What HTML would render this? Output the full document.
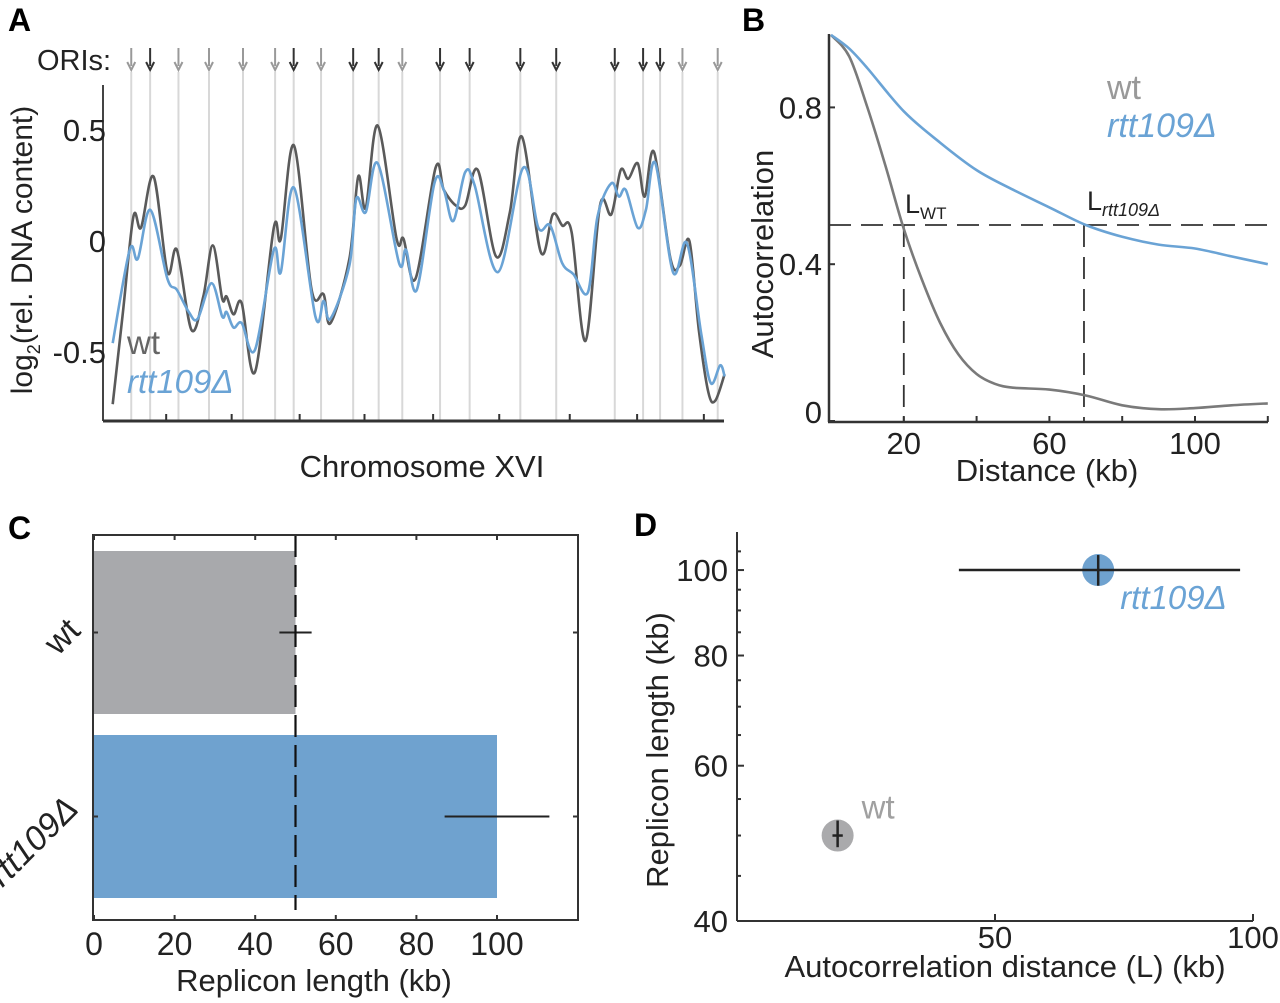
<!DOCTYPE html>
<html><head><meta charset="utf-8">
<style>
html,body{margin:0;padding:0;background:#fff;}
svg{display:block;font-family:"Liberation Sans",sans-serif;}
</style></head>
<body>
<svg id="fig" width="1280" height="1003" viewBox="0 0 1280 1003" xmlns="http://www.w3.org/2000/svg"></svg>
<script>
// ---- Panel A data ----
const oriPos = [38.5,68.5,113.5,162,216,267,296.5,340,391,431.5,469,529,576,656.5,713.5,806.5,851.5,878.5,914,970];
const oriConfirmed = [0,1,0,0,0,0,1,0,1,1,0,1,1,1,1,1,1,1,0,0];
const wtPos = [9,25,42,54,74,96,111,134,153,168,183,190,201,214,235,265,276,297,325,344,355,385,399,411,430,460,471,490,522,535,554,569,589,618,640,659,689,708,723,738,760,783,801,816,828,843,854,869,895,910,925,940,955,966,981];
const wtVal = [-0.735,-0.33,0.11,0.06,0.29,-0.14,-0.04,-0.40,-0.25,-0.02,-0.26,-0.25,-0.33,-0.28,-0.59,0.06,0.01,0.43,-0.22,-0.24,-0.37,-0.08,0.29,0.15,0.52,0.01,0.01,-0.17,0.33,0.23,0.16,0.16,0.32,-0.07,0.13,0.47,-0.05,0.12,0.07,0.04,-0.45,0.16,0.12,0.32,0.28,0.35,0.20,0.40,-0.08,-0.11,0.00,-0.40,-0.68,-0.72,-0.60];
const rttPos = [9,36,49,69,96,111,130,144,166,183,190,201,214,235,265,276,297,331,344,355,385,396,411,430,464,475,492,520,535,550,569,584,621,661,685,704,723,741,764,779,801,813,824,843,856,871,899,921,944,959,974,981];
const rttVal = [-0.46,-0.04,-0.08,0.14,-0.17,-0.22,-0.32,-0.35,-0.19,-0.34,-0.32,-0.39,-0.37,-0.49,-0.04,-0.14,0.24,-0.34,-0.27,-0.35,-0.11,0.19,0.13,0.35,-0.10,-0.04,-0.22,0.26,0.23,0.09,0.31,0.25,-0.14,0.33,0.06,0.07,-0.10,-0.15,-0.23,0.11,0.26,0.20,0.23,0.06,0.14,0.35,-0.14,-0.01,-0.42,-0.64,-0.56,-0.61];
const aYTicks = [0.5,0,-0.5];
const aYLabels = ["0.5","0","-0.5"];
const aXTicks = [94,198,306,409,518,623,735,842,948];
// ---- Panel B data ----
const bDist = [0,5,10,15,20,25,30,35,40,45,50,60,70,80,90,100,110,120];
const bWt = [0.985,0.93,0.80,0.65,0.49,0.36,0.25,0.17,0.12,0.095,0.085,0.08,0.065,0.04,0.03,0.033,0.04,0.045];
const bDist2 = [0,5,10,20,30,40,50,60,70,80,90,100,110,120];
const bRtt = [0.985,0.95,0.90,0.79,0.71,0.64,0.59,0.545,0.50,0.47,0.45,0.44,0.42,0.40];
const bThreshold = 0.5;
const bLwt = 20, bLrtt = 69.5;
const bXTicks = [20,40,60,80,100,120];
const bXLabels = {20:"20",60:"60",100:"100"};
const bYTicks = [0,0.4,0.8];
const bYLabels = ["0","0.4","0.8"];
// ---- Panel C data ----
const cCats = ["wt","rtt109Δ"];
const cVals = [50,100];
const cErrLo = [46,87];
const cErrHi = [54,113];
const cXTicks = [0,20,40,60,80,100];
const cRef = 50;
// ---- Panel D data ----
const dNames = ["wt","rtt109Δ"];
const dL = [19.5,70];
const dLen = [50,100];
const dLlo = [18.5,43];
const dLhi = [20.5,97.5];
const dYlo = [48.5,96];
const dYhi = [52,104];
const dXTicks = [50,100];
const dYTicks = [40,60,80,100];

const NS="http://www.w3.org/2000/svg";
const svg=document.getElementById('fig');
function mk(tag,attrs,parent,txt){const e=document.createElementNS(NS,tag);for(const k in attrs)e.setAttribute(k,attrs[k]);if(txt!==undefined)e.textContent=txt;(parent||svg).appendChild(e);return e;}
function smooth(pts){let d="M"+pts[0][0].toFixed(1)+","+pts[0][1].toFixed(1);for(let i=0;i<pts.length-1;i++){const p0=pts[i-1]||pts[i],p1=pts[i],p2=pts[i+1],p3=pts[i+2]||p2;const c1=[p1[0]+(p2[0]-p0[0])/6,p1[1]+(p2[1]-p0[1])/6],c2=[p2[0]-(p3[0]-p1[0])/6,p2[1]-(p3[1]-p1[1])/6];d+="C"+c1[0].toFixed(1)+","+c1[1].toFixed(1)+" "+c2[0].toFixed(1)+","+c2[1].toFixed(1)+" "+p2[0].toFixed(1)+","+p2[1].toFixed(1);}return d;}
const GREY="#5a5a5a", BLUE="#6aa3d5", TXT="#222";
const TICKF=31, TITLEF=31;

// ===== Panel A =====
const gA=mk('g',{});


const ax=v=>107+v*(724-107)/980;
const ay=v=>241-v*222;
let t=mk('text',{x:8,y:31,'font-size':32,'font-weight':'bold',fill:'#000'},gA,'A');

t=mk('text',{x:37,y:70,'font-size':29,fill:TXT},gA,'ORIs:');

oriPos.forEach((p,i)=>{const x=ax(p);const c=oriConfirmed[i]?'#333':'#999';
 const l=mk('line',{x1:x,y1:72,x2:x,y2:421,stroke:'#d8d8d8','stroke-width':2},gA);
 
 const a=mk('g',{},gA);
 
 mk('line',{x1:x,y1:48,x2:x,y2:66,stroke:c,'stroke-width':2},a);
 mk('path',{d:`M${x-4},${62} L${x},${70} L${x+4},${62}`,fill:'none',stroke:c,'stroke-width':2},a);
});
let ln=mk('line',{x1:103,y1:85,x2:103,y2:421,stroke:'#444','stroke-width':2},gA);

ln=mk('line',{x1:103,y1:421,x2:724,y2:421,stroke:'#333','stroke-width':3},gA);

aXTicks.forEach(v=>{const e=mk('line',{x1:ax(v),y1:421,x2:ax(v),y2:414,stroke:'#333','stroke-width':2},gA);
 });
aYTicks.forEach((v,i)=>{const e=mk('text',{x:106,y:ay(v)+11,'font-size':TICKF,'text-anchor':'end',fill:TXT},gA,aYLabels[i]);
 });
t=mk('text',{x:0,y:0,'font-size':30,fill:TXT,'text-anchor':'middle',transform:'translate(32,250) rotate(-90)'},gA);

t.innerHTML='log<tspan font-size="18" dy="8">2</tspan><tspan dy="-8">(rel. DNA content)</tspan>';
t=mk('text',{x:422,y:477,'font-size':TITLEF,'text-anchor':'middle',fill:TXT},gA,'Chromosome XVI');

let p=mk('path',{d:smooth(wtPos.map((v,i)=>[ax(v),ay(wtVal[i])])),fill:'none',stroke:GREY,'stroke-width':2.6},gA);

p=mk('path',{d:smooth(rttPos.map((v,i)=>[ax(v),ay(rttVal[i])])),fill:'none',stroke:BLUE,'stroke-width':2.6},gA);

t=mk('text',{x:127,y:354,'font-size':33,fill:'#666'},gA,'wt');

t=mk('text',{x:127,y:393,'font-size':33,'font-style':'italic',fill:BLUE},gA,'rtt109Δ');


// ===== Panel B =====
const gB=mk('g',{});

const bx=v=>831+v*3.64;
const by=v=>421-v*392;
t=mk('text',{x:742,y:31,'font-size':32,'font-weight':'bold',fill:'#000'},gB,'B');

ln=mk('line',{x1:829,y1:34,x2:829,y2:422,stroke:'#333','stroke-width':2.5},gB);

ln=mk('line',{x1:828,y1:422,x2:1268,y2:422,stroke:'#333','stroke-width':2.5},gB);

bXTicks.forEach(v=>{const e=mk('line',{x1:bx(v),y1:422,x2:bx(v),y2:416,stroke:'#333','stroke-width':2},gB);
 
 if(bXLabels[v]){const l=mk('text',{x:bx(v),y:454,'font-size':TICKF,'text-anchor':'middle',fill:TXT},gB,bXLabels[v]);
 }});
bYTicks.forEach((v,i)=>{const e=mk('line',{x1:829,y1:by(v),x2:835,y2:by(v),stroke:'#333','stroke-width':2},gB);
 
 const l=mk('text',{x:822,y:by(v)+(v===0?2:11),'font-size':TICKF,'text-anchor':'end',fill:TXT},gB,bYLabels[i]);
 });
t=mk('text',{x:0,y:0,'font-size':TITLEF,'text-anchor':'middle',fill:TXT,transform:'translate(773,254) rotate(-90)'},gB,'Autocorrelation');

t=mk('text',{x:1047,y:481,'font-size':TITLEF,'text-anchor':'middle',fill:TXT},gB,'Distance (kb)');

ln=mk('line',{x1:829,y1:by(bThreshold),x2:1268,y2:by(bThreshold),stroke:'#333','stroke-width':1.8,'stroke-dasharray':'22,10'},gB);

ln=mk('line',{x1:bx(bLwt),y1:by(bThreshold),x2:bx(bLwt),y2:422,stroke:'#333','stroke-width':1.8,'stroke-dasharray':'22,10'},gB);

ln=mk('line',{x1:bx(bLrtt),y1:by(bThreshold),x2:bx(bLrtt),y2:422,stroke:'#333','stroke-width':1.8,'stroke-dasharray':'22,10'},gB);

p=mk('path',{d:smooth(bDist.map((v,i)=>[bx(v),by(bWt[i])])),fill:'none',stroke:'#7a7a7a','stroke-width':2.6},gB);

p=mk('path',{d:smooth(bDist2.map((v,i)=>[bx(v),by(bRtt[i])])),fill:'none',stroke:BLUE,'stroke-width':2.6},gB);

t=mk('text',{x:905,y:213,'font-size':27,fill:TXT},gB);

t.innerHTML='L<tspan font-size="17" dy="6">WT</tspan>';
t=mk('text',{x:1087,y:210,'font-size':27,fill:TXT},gB);

t.innerHTML='L<tspan font-size="18" dy="6" font-style="italic">rtt109Δ</tspan>';
t=mk('text',{x:1107,y:99,'font-size':34,fill:'#999'},gB,'wt');

t=mk('text',{x:1107,y:137,'font-size':34,'font-style':'italic',fill:BLUE},gB,'rtt109Δ');


// ===== Panel C =====
const gC=mk('g',{});

const cx=v=>94+v*4.03;
const cBandTop=[551,735], cBandH=163;
t=mk('text',{x:8,y:539,'font-size':32,'font-weight':'bold',fill:'#000'},gC,'C');

cVals.forEach((v,i)=>{const r=mk('rect',{x:cx(0),y:cBandTop[i],width:cx(v)-cx(0),height:cBandH,fill:i?'#6fa2cf':'#a8a9ac'},gC);
 
 const yc=cBandTop[i]+cBandH/2;
 const e=mk('line',{x1:cx(cErrLo[i]),y1:yc,x2:cx(cErrHi[i]),y2:yc,stroke:'#222','stroke-width':2},gC);
 
 if(i===0){const v2=mk('line',{x1:cx(v),y1:yc-6,x2:cx(v),y2:yc+6,stroke:'#222','stroke-width':2},gC);
 }
 [93,578].forEach((xx,j)=>{const tk=mk('line',{x1:xx,y1:yc,x2:xx+(j?-5:5),y2:yc,stroke:'#333','stroke-width':2},gC);
 });
 const lab=mk('text',{x:0,y:0,'font-size':34,'text-anchor':'end','font-style':i?'italic':'normal',fill:TXT,transform:`translate(${i?80:82},${yc+(i?-6:0)}) rotate(-45)`},gC,cCats[i]);
 
});
ln=mk('line',{x1:cx(cRef),y1:535,x2:cx(cRef),y2:910,stroke:'#111','stroke-width':2.2,'stroke-dasharray':'22,8'},gC);

let box=mk('rect',{x:93,y:535,width:485,height:385,fill:'none',stroke:'#333','stroke-width':2},gC);

cXTicks.forEach(v=>{[535,920].forEach((yy,j)=>{const tk=mk('line',{x1:cx(v),y1:yy,x2:cx(v),y2:yy+(j?-5:5),stroke:'#333','stroke-width':2},gC);
 });
 const l=mk('text',{x:cx(v),y:955,'font-size':32,'text-anchor':'middle',fill:TXT},gC,String(v));
 });
t=mk('text',{x:314,y:991,'font-size':TITLEF,'text-anchor':'middle',fill:TXT},gC,'Replicon length (kb)');


// ===== Panel D =====
const gD=mk('g',{});

const dx=v=>737+v*5.16;
const dy=v=>921-Math.log(v/40)*383;
t=mk('text',{x:634,y:536,'font-size':32,'font-weight':'bold',fill:'#000'},gD,'D');

ln=mk('line',{x1:737,y1:532,x2:737,y2:921,stroke:'#333','stroke-width':2},gD);

ln=mk('line',{x1:737,y1:921,x2:1253,y2:921,stroke:'#333','stroke-width':2},gD);

for(let v=40;v<=105;v+=5){const big=dYTicks.indexOf(v)>=0;const tk=mk('line',{x1:737,y1:dy(v),x2:737+(big?7:4),y2:dy(v),stroke:'#333','stroke-width':2},gD);
 }
dYTicks.forEach(v=>{const l=mk('text',{x:728,y:dy(v)+11,'font-size':TICKF,'text-anchor':'end',fill:TXT},gD,String(v));
 });
dXTicks.forEach(v=>{const tk=mk('line',{x1:dx(v),y1:921,x2:dx(v),y2:914,stroke:'#333','stroke-width':2},gD);
 
 const l=mk('text',{x:dx(v),y:948,'font-size':TICKF,'text-anchor':'middle',fill:TXT},gD,String(v));
 });
t=mk('text',{x:0,y:0,'font-size':TITLEF,'text-anchor':'middle',fill:TXT,transform:'translate(668,750) rotate(-90)'},gD,'Replicon length (kb)');

t=mk('text',{x:1005,y:977,'font-size':TITLEF,'text-anchor':'middle',fill:TXT},gD,'Autocorrelation distance (L) (kb)');

dL.forEach((v,i)=>{const c=mk('ellipse',{cx:dx(v),cy:dy(dLen[i]),rx:16,ry:16,fill:i?'#6fa2cf':'#aaaaac'},gD);
 
 const h=mk('line',{x1:dx(dLlo[i]),y1:dy(dLen[i]),x2:dx(dLhi[i]),y2:dy(dLen[i]),stroke:'#222','stroke-width':2.5},gD);
 
 const vv=mk('line',{x1:dx(v),y1:dy(dYlo[i]),x2:dx(v),y2:dy(dYhi[i]),stroke:'#222','stroke-width':2.5},gD);
 
 const l=mk('text',{x:i?dx(v)+22:dx(v)+24,y:i?dy(dLen[i])+39:dy(dLen[i])-17,'font-size':33,'font-style':i?'italic':'normal',fill:i?BLUE:'#a0a0a0'},gD,dNames[i]);
 });
</script>
</body></html>
